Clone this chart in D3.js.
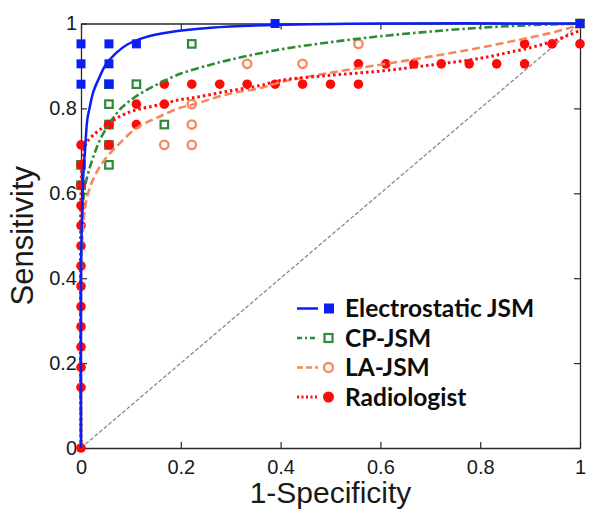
<!DOCTYPE html>
<html><head><meta charset="utf-8">
<script src="https://cdn.jsdelivr.net/npm/d3@7"></script>
<style>body{margin:0;background:#fff}svg{display:block}</style>
</head><body>
<svg id="chart" width="600" height="517"></svg>
<script>
// ---- data ----
const xTicks = [0, 0.2, 0.4, 0.6, 0.8, 1];
const yTicks = [0, 0.2, 0.4, 0.6, 0.8, 1];
const tickLabels = ["0", "0.2", "0.4", "0.6", "0.8", "1"];
const seriesNames = ["Electrostatic JSM", "CP-JSM", "LA-JSM", "Radiologist"];

// observed operating points
const electroPtX = [0, 0, 0, 0.056, 0.056, 0.056, 0.111, 0.389, 1];
const electroPtY = [0.952, 0.905, 0.857, 0.952, 0.905, 0.857, 0.952, 1, 1];
const cpPtX = [0, 0, 0.056, 0.056, 0.056, 0.056, 0.056, 0.111, 0.167, 0.222, 1];
const cpPtY = [0.667, 0.619, 0.857, 0.810, 0.762, 0.714, 0.667, 0.857, 0.762, 0.952, 1];
const laPtX = [0.167, 0.222, 0.222, 0.222, 0.333, 0.444, 0.556, 1];
const laPtY = [0.714, 0.810, 0.762, 0.714, 0.905, 0.905, 0.952, 1];
const radPtX = [0, 0, 0, 0, 0, 0, 0, 0, 0, 0, 0, 0, 0, 0,
  0.056, 0.056, 0.111, 0.111, 0.167, 0.167,
  0.222, 0.278, 0.333, 0.389, 0.444, 0.5, 0.556,
  0.556, 0.611, 0.667, 0.722, 0.778, 0.833, 0.889,
  0.889, 0.944, 1];
const radPtY = [0, 0.143, 0.190, 0.238, 0.286, 0.333, 0.381, 0.429, 0.476, 0.524, 0.571, 0.619, 0.667, 0.714,
  0.762, 0.714, 0.810, 0.762, 0.857, 0.810,
  0.857, 0.857, 0.857, 0.857, 0.857, 0.857, 0.857,
  0.905, 0.905, 0.905, 0.905, 0.905, 0.905, 0.905,
  0.952, 0.952, 0.952];

// fitted ROC curves
const electroCurveX = [0, 0, 0.002, 0.005, 0.008, 0.0127, 0.017, 0.025, 0.038, 0.048, 0.07, 0.092, 0.13, 0.18, 0.26, 0.4, 0.6, 1];
const electroCurveY = [0, 0.4, 0.55, 0.65, 0.70, 0.774, 0.80, 0.84, 0.876, 0.9, 0.93, 0.95, 0.968, 0.98, 0.99, 0.997, 1, 1];
const cpCurveX = [0, 0, 0.003, 0.008, 0.015, 0.025, 0.038, 0.058, 0.08, 0.111, 0.15, 0.2, 0.26, 0.3, 0.4, 0.5, 0.6, 0.7, 0.8, 0.9, 1];
const cpCurveY = [0, 0.45, 0.56, 0.616, 0.65, 0.687, 0.726, 0.766, 0.80, 0.829, 0.855, 0.882, 0.903, 0.915, 0.939, 0.956, 0.970, 0.981, 0.99, 0.996, 1];
const laCurveX = [0, 0, 0.004, 0.011, 0.025, 0.045, 0.072, 0.112, 0.158, 0.2, 0.225, 0.292, 0.359, 0.4, 0.5, 0.6, 0.7, 0.8, 0.85, 0.9, 0.95, 1];
const laCurveY = [0, 0.4, 0.52, 0.585, 0.635, 0.675, 0.711, 0.754, 0.781, 0.802, 0.809, 0.833, 0.848, 0.862, 0.884, 0.903, 0.922, 0.943, 0.955, 0.967, 0.98, 0.997];
const radCurveX = [0, 0, 0.004, 0.011, 0.038, 0.092, 0.158, 0.2, 0.225, 0.292, 0.359, 0.4, 0.5, 0.6, 0.7, 0.8, 0.85, 0.9, 0.95, 1];
const radCurveY = [0, 0.6, 0.69, 0.719, 0.75, 0.789, 0.809, 0.821, 0.825, 0.840, 0.854, 0.866, 0.878, 0.888, 0.902, 0.918, 0.93, 0.943, 0.96, 0.984];
const chanceX = [0, 1];
const chanceY = [0, 1];

// ---- drawing ----
const W = 600, H = 517;
const m = {left: 81, right: 20, top: 23.5, bottom: 69};
const svg = d3.select("#chart");
const x = d3.scaleLinear().domain([0, 1]).range([m.left, W - m.right]);
const y = d3.scaleLinear().domain([0, 1]).range([H - m.bottom, m.top]);

const colors = {blue: "#0a1ef5", green: "#2e8b35", orange: "#f8875a", red: "#ff0a0a"};
const zip = (a, b) => a.map((v, i) => [v, b[i]]);
const line = d3.line().x(d => x(d[0])).y(d => y(d[1])).curve(d3.curveCatmullRom.alpha(0.5));
const straight = d3.line().x(d => x(d[0])).y(d => y(d[1]));

// frame + axes
const fontTick = "'Liberation Sans', Arial, sans-serif";
const gx = svg.append("g").attr("transform", `translate(0,${y(0)})`)
  .call(d3.axisBottom(x).tickValues(xTicks).tickFormat((d, i) => tickLabels[i]).tickSizeInner(-6).tickSizeOuter(0).tickPadding(12));
const gy = svg.append("g").attr("transform", `translate(${x(0)},0)`)
  .call(d3.axisLeft(y).tickValues(yTicks).tickFormat((d, i) => tickLabels[i]).tickSizeInner(-6).tickSizeOuter(0).tickPadding(4));
const gt = svg.append("g").attr("transform", `translate(0,${y(1)})`)
  .call(d3.axisTop(x).tickValues(xTicks).tickFormat("").tickSizeInner(-6).tickSizeOuter(0));
const gr = svg.append("g").attr("transform", `translate(${x(1)},0)`)
  .call(d3.axisRight(y).tickValues(yTicks).tickFormat("").tickSizeInner(-6).tickSizeOuter(0));
[gx, gy, gt, gr].forEach(g => {
  g.selectAll("path.domain").attr("stroke", "#2a2a2a").attr("stroke-width", 1.3);
  g.selectAll(".tick line").attr("stroke", "#2a2a2a").attr("stroke-width", 1.2);
  g.selectAll("text").attr("font-family", fontTick).attr("font-size", 20).attr("fill", "#1a1a1a");
});
gx.selectAll(".tick text").attr("dy", "0.71em");

// chance diagonal
svg.append("path").attr("d", straight(zip(chanceX, chanceY)))
  .attr("fill", "none").attr("stroke", "#8a8a8a").attr("stroke-width", 1.3).attr("stroke-dasharray", "4,2");

// markers (lower layers)
const sq = 9.5;
svg.append("g").selectAll("rect").data(zip(cpPtX, cpPtY)).join("rect")
  .attr("x", d => x(d[0]) - sq / 2 + 1).attr("y", d => y(d[1]) - sq / 2 + 1)
  .attr("width", sq - 2).attr("height", sq - 2)
  .attr("fill", "none").attr("stroke", colors.green).attr("stroke-width", 2.2);
svg.append("g").selectAll("circle").data(zip(laPtX, laPtY)).join("circle")
  .attr("cx", d => x(d[0])).attr("cy", d => y(d[1])).attr("r", 4.2)
  .attr("fill", "none").attr("stroke", colors.orange).attr("stroke-width", 2.3);
svg.append("g").selectAll("circle").data(zip(radPtX, radPtY)).join("circle")
  .attr("cx", d => x(d[0])).attr("cy", d => y(d[1])).attr("r", 4.8)
  .attr("fill", colors.red);

// curves
const curveStyle = [
  {xs: laCurveX, ys: laCurveY, c: colors.orange, w: 2.6, dash: "8,4"},
  {xs: cpCurveX, ys: cpCurveY, c: colors.green, w: 2.6, dash: "8,3,2.5,3"},
  {xs: radCurveX, ys: radCurveY, c: colors.red, w: 3, dash: "2.5,3"},
  {xs: electroCurveX, ys: electroCurveY, c: colors.blue, w: 2.5, dash: null}
];
curveStyle.forEach(s => {
  svg.append("path").attr("d", line(zip(s.xs, s.ys)))
    .attr("fill", "none").attr("stroke", s.c).attr("stroke-width", s.w)
    .attr("stroke-dasharray", s.dash);
});

// blue markers on top
svg.append("g").selectAll("rect").data(zip(electroPtX, electroPtY)).join("rect")
  .attr("x", d => x(d[0]) - 4.5).attr("y", d => y(d[1]) - 4.5)
  .attr("width", 9).attr("height", 9).attr("fill", colors.blue);

// axis titles
svg.append("text").attr("x", (x(0) + x(1)) / 2).attr("y", 503)
  .attr("text-anchor", "middle").attr("font-family", fontTick).attr("font-size", 30)
  .attr("fill", "#1a1a1a").text("1-Specificity");
svg.append("text").attr("transform", `translate(33,${(y(0) + y(1)) / 2}) rotate(-90)`)
  .attr("text-anchor", "middle").attr("font-family", fontTick).attr("font-size", 31)
  .attr("fill", "#1a1a1a").text("Sensitivity");

// legend
const legY = [308.5, 338, 367.5, 397];
const legStyles = [
  {c: colors.blue, w: 2.5, dash: null, mk: "fsq"},
  {c: colors.green, w: 2.5, dash: "5,3,2,3", mk: "osq"},
  {c: colors.orange, w: 2.5, dash: "6,3", mk: "oc"},
  {c: colors.red, w: 3, dash: "2,2.5", mk: "fc"}
];
const leg = svg.append("g");
seriesNames.forEach((name, i) => {
  const s = legStyles[i], yy = legY[i];
  leg.append("line").attr("x1", 297).attr("x2", 318).attr("y1", yy).attr("y2", yy)
    .attr("stroke", s.c).attr("stroke-width", s.w).attr("stroke-dasharray", s.dash);
  if (s.mk === "fsq") leg.append("rect").attr("x", 324).attr("y", yy - 5).attr("width", 10).attr("height", 10).attr("fill", s.c);
  if (s.mk === "osq") leg.append("rect").attr("x", 324.5).attr("y", yy - 4).attr("width", 8).attr("height", 8).attr("fill", "none").attr("stroke", s.c).attr("stroke-width", 2.2);
  if (s.mk === "oc") leg.append("circle").attr("cx", 328.5).attr("cy", yy).attr("r", 4.5).attr("fill", "none").attr("stroke", s.c).attr("stroke-width", 2.3);
  if (s.mk === "fc") leg.append("circle").attr("cx", 328.5).attr("cy", yy).attr("r", 5.5).attr("fill", s.c);
  leg.append("text").attr("x", 345).attr("y", yy).attr("dy", "0.36em")
    .attr("font-family", "Lato, 'Open Sans', sans-serif").attr("font-weight", "bold").attr("font-size", 24.5)
    .attr("fill", "#0d0d0d").text(name);
});
</script>
</body></html>
